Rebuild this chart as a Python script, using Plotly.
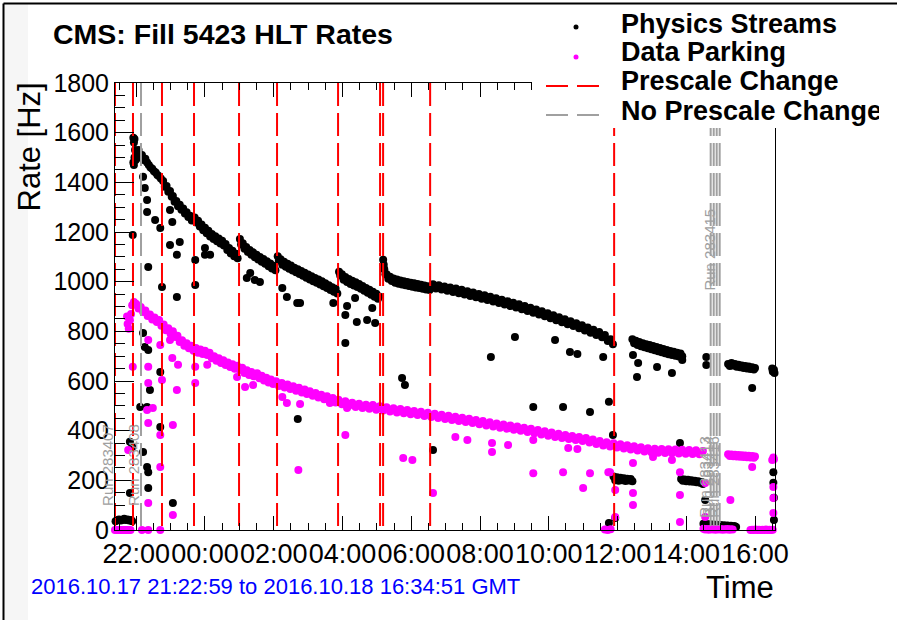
import pandas as pd
import plotly.graph_objects as go

# ---------------- data (minutes after fill start, rate in Hz) ----------------
fill_start = "2016-10-17 21:22:59"
fill_end = "2016-10-18 16:34:51"

physics_points = [
    (1,35),(4,40),(7,42),(10,38),(13,40),(16,45),(19,40),(22,42),(25,38),(28,40),(30,35),
    (26,355),(30,334),(26,149),(31,1188),
    (32,1480),(32,1580),(33,1560),(33,1470),(34,1575),(34,1500),(35,1530),(36,1490),(38,1510),
    (41,1530),(44,1500),(47,1510),(50,1490),(53,1495),(56,1480),(59,1470),(62,1460),(65,1455),
    (68,1445),(71,1440),(74,1430),(77,1425),(80,1415),
    (84,1405),(87,1382),(90,1385),(93,1362),(96,1365),(99,1342),(101,1345),(104,1322),(107,1325),
    (110,1304),(113,1310),(116,1290),(119,1295),(122,1275),(125,1280),(128,1260),(131,1265),
    (134,1246),(136,1250),
    (139,1258),(142,1238),(145,1245),(148,1222),(151,1230),(154,1207),(157,1217),(160,1195),
    (163,1205),(166,1182),(169,1192),(172,1172),(175,1183),(178,1163),(181,1174),(184,1154),
    (187,1165),(190,1146),(193,1152),(196,1128),(199,1136),(202,1114),(205,1124),(208,1102),
    (211,1112),(214,1094),
    (218,1172),(220,1150),(223,1155),(226,1133),(229,1140),(232,1119),(235,1128),(238,1108),
    (241,1118),(244,1098),(247,1108),(250,1089),(253,1099),(256,1080),(259,1091),(262,1072),
    (265,1082),(268,1062),(271,1073),(274,1053),(277,1064),(280,1046),
    (284,1102),(286,1085),(289,1090),(292,1068),(295,1080),(298,1060),(301,1072),(304,1052),
    (307,1065),(310,1045),(313,1056),(316,1038),(319,1050),(322,1031),(325,1043),(328,1024),
    (331,1036),(334,1016),(337,1029),(340,1009),(343,1022),(346,1002),(349,1015),(352,996),
    (355,1009),(358,989),(361,1002),(364,982),(367,994),(370,974),(373,986),(376,966),
    (379,978),(382,959),(385,971),(388,952),
    (391,1040),(393,1025),(396,1030),(399,1008),(402,1019),(405,999),(408,1011),(411,991),
    (414,1004),(417,985),(420,998),(423,979),(426,991),(429,971),(432,983),(435,963),
    (438,975),(441,955),(444,967),(447,947),(450,959),(453,939),(456,951),(459,931),(461,940),
    (468,1088),(469,1068),(470,1050),(472,1030),(474,1030),(477,1012),(480,1020),(483,1003),
    (486,1013),(489,996),(492,1009),(495,992),(498,1005),(501,989),(504,1002),(507,986),
    (510,999),(513,983),(516,996),(519,980),(522,994),(525,977),(528,991),(531,974),
    (534,988),(537,971),(540,985),(543,968),(546,982),(549,966),
    (555,990),(560,972),(565,986),(570,968),(575,981),(580,963),(585,977),(590,958),(595,972),
    (600,953),(605,967),(610,948),(615,961),(620,942),(625,956),(630,937),(635,950),(640,931),
    (645,945),(650,926),(655,939),(660,920),(665,933),(670,914),(675,927),(680,908),(685,921),
    (690,902),(695,915),(700,896),(705,909),(710,889),(715,902),(720,882),(725,895),(730,875),
    (735,888),(740,868),(745,881),(750,861),(755,873),(760,853),(765,865),(770,845),(775,857),
    (780,837),(785,849),(790,829),(795,841),(800,821),(805,833),(810,812),(815,824),(820,803),
    (825,815),(830,794),(835,806),(840,785),(845,797),(850,776),(855,785),(860,761),(865,768),
    (869,748),
    (903,768),(906,752),(909,762),(912,745),(915,757),(918,740),(921,752),(924,736),(927,748),
    (930,732),(933,745),(936,728),(939,741),(942,724),(945,737),(948,720),(951,733),(954,716),
    (957,729),(960,712),(963,725),(966,708),(969,721),(972,705),(975,718),(978,702),(981,714),
    (984,699),(987,711),(990,700),
    (1032,697),(1032,664),
    (1070,668),(1073,660),(1076,672),(1079,662),(1082,668),(1085,657),(1088,665),(1091,655),
    (1094,662),(1097,652),(1100,660),(1103,650),(1106,658),(1109,648),(1112,655),(1115,646),
    (1117,652),(1112,572),
    (1147,650),(1148,638),(1150,645),(1151,632),
    (870,215),(873,200),(876,212),(879,198),(882,210),(885,200),(888,208),(891,197),(894,206),
    (897,199),(900,205),(903,196),
    (988,205),(991,198),(994,203),(997,196),(1000,202),(1003,195),(1006,200),(1009,194),
    (1012,198),(1015,192),(1018,196),(1021,190),(1024,193),(1026,185),
    (1027,25),(1030,20),(1033,24),(1036,18),(1039,23),(1042,17),(1045,22),(1048,16),(1051,21),
    (1054,15),(1057,20),(1060,15),(1063,19),(1066,14),(1069,18),(1072,14),(1075,17),(1078,13),
    (1081,16),(1084,12),
    (1149,233),(1149,190),(1150,130),(1150,40),
    (862,28),(873,48),(869,383),(862,516),
    (44,495),(56,495),(49,314),(56,254),(58,233),(58,169),(79,415),(101,109),(319,447),(555,322),
    (49,1422),(52,1377),(56,1329),(56,1281),(58,1059),(70,1248),(79,1216),(82,979),(96,1289),
    (100,1240),(96,1148),(113,1160),(108,1108),(108,938),(140,1087),(140,987),(157,1136),
    (157,1108),(166,1108),(230,1015),(236,1035),(244,1007),(253,999),(292,975),(300,938),
    (318,914),(323,914),(381,914),(402,866),(405,902),(402,753),(419,934),(422,838),(440,846),
    (449,894),(454,834),(49,793),(52,737),(58,725),(79,636),(61,564),
    (501,612),(506,584),(656,697),(698,777),(768,765),(794,717),(807,709),(852,697),
    (730,495),(782,495),(829,475),(986,350),(904,705),(911,616),(913,672),(946,656),
    (972,632),(990,685),(1030,121),
]

parking_points = [
    (0,0),(3,0),(6,0),(9,0),(12,0),(15,0),(18,0),(21,0),(24,0),(27,0),(47,0),(58,0),(79,0),
    (21,860),(22,830),(24,810),(26,845),(28,870),(30,905),(33,918),(35,912),
    (37,910),(41,892),(45,898),(49,878),(53,884),(57,862),(61,868),(65,848),(69,856),(73,838),
    (77,846),(81,822),(85,828),(89,804),(93,812),(97,790),(101,800),(105,777),(109,782),
    (113,757),(117,764),(121,742),(125,752),(129,732),(133,742),(137,722),(141,733),(145,714),
    (149,727),(153,709),(157,722),(161,705),(165,714),(169,692),(173,700),(177,682),(181,692),
    (185,672),(189,684),(193,664),(197,675),(201,656),(205,667),(209,649),(213,661),(218,644),
    (222,653),(226,632),(230,643),(234,624),(238,636),(242,619),(248,631),(252,611),(256,621),
    (260,602),(264,613),(268,594),(272,606),(276,588),(281,599),(286,580),(291,592),(296,574),
    (301,586),(306,568),(311,579),(316,561),(321,573),(326,554),(331,566),(335,548),(340,559),
    (345,541),(350,552),(355,534),(360,545),(365,527),(370,539),(375,520),(380,532),(385,513),
    (390,525),(396,506),(402,518),(408,500),(414,512),(420,495),(426,508),(432,491),(438,504),
    (444,488),(450,501),(456,484),(462,498),(468,481),(474,494),(480,477),(486,490),(492,473),
    (498,487),(504,470),(510,483),(516,466),(522,479),(528,463),(534,476),(540,459),(546,472),
    (552,455),(558,468),(564,451),(570,464),(576,447),(582,460),(588,443),(594,456),(600,439),
    (606,452),(612,435),(618,448),(624,431),(630,443),(636,426),(642,439),(648,421),(654,434),
    (660,417),(666,429),(672,412),(678,425),(684,408),(690,421),(696,404),(702,417),(708,400),
    (714,412),(720,395),(726,408),(732,390),(738,403),(744,385),(750,398),(756,380),(762,393),
    (768,375),(774,388),(780,370),(786,383),(792,366),(798,379),(804,362),(810,375),(816,358),
    (822,370),(828,352),(834,364),(840,346),(846,358),(852,340),(858,353),(864,336),(870,349),
    (876,332),(882,345),(888,328),(894,341),(900,324),(906,337),(912,320),(918,333),(924,316),
    (930,329),(936,313),(942,327),(948,311),(954,326),(960,310),(966,325),(972,309),(978,324),
    (984,308),(990,323),(996,307),(1002,322),(1008,306),(1014,321),(1020,305),(1026,318),
    (1070,305),(1073,298),(1076,304),(1079,297),(1082,303),(1085,296),(1088,302),(1091,295),
    (1094,301),(1097,294),(1100,300),(1103,293),(1106,299),(1109,292),(1112,298),(1115,291),
    (1117,296),(1147,282),(1149,292),(1150,285),(1152,288),
    (1027,5),(1030,2),(1033,4),(1036,1),(1039,4),(1042,2),(1045,5),(1048,1),(1051,4),(1054,2),
    (1057,4),(1060,1),(1063,3),(1066,2),(1069,4),(1072,1),(1075,3),(1078,2),
    (1109,0),(1112,1),(1115,0),(1118,2),(1121,0),(1124,1),(1127,0),(1130,1),(1133,0),(1136,2),
    (1139,0),(1142,1),(1145,0),(1148,1),(855,2),(860,0),(865,3),
    (23,322),(56,483),(58,431),(58,109),(66,491),(79,383),(79,254),(101,423),(101,60),(320,242),
    (402,383),(503,290),(519,282),(555,149),(300,511),(323,507),(31,657),(58,657),(58,765),
    (58,592),(82,604),(79,745),(96,765),(100,693),(110,665),(108,564),(140,657),(140,592),
    (161,665),(213,616),(227,576),(241,584),(292,536),(375,511),(405,491),(450,503),
    (594,375),(615,362),(658,350),(658,314),(686,342),(730,362),(730,229),(782,233),(791,330),
    (807,326),(817,169),(829,229),(861,233),(864,233),(873,161),(873,52),(904,270),(904,149),
    (904,101),(939,294),(972,282),(986,233),(986,141),(986,32),(1030,189),(1030,52),(1074,121),
    (1112,254),(1149,173),(1149,129),(1149,68),
]

prescale_change_min = [0.0, 31.4, 82.0, 137.9, 216.5, 282.8, 389.3, 462.6, 467.9, 550.0, 871.1]
no_prescale_change_min = [45.4, 1039.6, 1044.9, 1050.1, 1055.3]

run_label_min = [0.0, 45.4, 1039.6, 1044.9, 1050.1, 1055.3]
run_label_text = ["Run 283407", "Run 283408", "Run 283413", "Run 283414", "Run 283415", "Run 283416"]

x_tick_start = "2016-10-17 22:00:00"
y_range = [0, 1800]

# ---------------- helpers ----------------
t0 = pd.Timestamp(fill_start)


def to_time(m):
    return t0 + pd.to_timedelta(m, unit="min")


def vlines(mins):
    xs, ys = [], []
    for m in mins:
        xs += [to_time(m), to_time(m), None]
        ys += [y_range[1], y_range[0], None]
    return xs, ys


FONT = "Liberation Sans, Arial, Helvetica, sans-serif"

fig = go.Figure()

fig.add_trace(go.Scatter(
    x=[to_time(m) for m, r in physics_points], y=[r for m, r in physics_points],
    mode="markers", marker=dict(color="black", size=8, line=dict(width=0)),
    cliponaxis=False, name="Physics Streams", showlegend=False))
fig.add_trace(go.Scatter(
    x=[to_time(m) for m, r in parking_points], y=[r for m, r in parking_points],
    mode="markers", marker=dict(color="#ff00ff", size=8, line=dict(width=0)),
    cliponaxis=False, name="Data Parking", showlegend=False))

vx, vy = vlines(prescale_change_min)
fig.add_trace(go.Scatter(x=vx, y=vy, mode="lines", name="Prescale Change", showlegend=False,
                         line=dict(color="#ff0000", width=2, dash="23px,7px"), hoverinfo="skip"))
gx, gy = vlines(no_prescale_change_min)
fig.add_trace(go.Scatter(x=gx, y=gy, mode="lines", name="No Prescale Change", showlegend=False,
                         line=dict(color="#a0a0a0", width=2, dash="23px,7px"), hoverinfo="skip"))

# ---------------- layout geometry ----------------
L, R, T, B = 115, 775, 83, 530
W, H = 897, 620


def px(xp):
    return (xp - L) / (R - L)


def py(yp):
    return (B - yp) / (B - T)


shapes = [
    # faint grey strip on the left of the canvas
    dict(type="rect", xref="paper", yref="paper", x0=px(4), x1=px(28), y0=py(H + 5), y1=py(4),
         fillcolor="#f6f6f6", line=dict(width=0), layer="below"),
    # white legend box covering frame corner
    dict(type="rect", xref="paper", yref="paper", x0=px(532), x1=px(W + 5), y0=py(128), y1=py(5),
         fillcolor="white", line=dict(width=0), layer="above"),
    # canvas border (top and left)
    dict(type="line", xref="paper", yref="paper", x0=px(3.5), x1=px(W + 5), y0=py(3.5), y1=py(3.5),
         line=dict(color="black", width=2), layer="above"),
    dict(type="line", xref="paper", yref="paper", x0=px(3.5), x1=px(3.5), y0=py(3.5), y1=py(H + 5),
         line=dict(color="black", width=2), layer="above"),
    # legend line samples
    dict(type="line", xref="paper", yref="paper", x0=px(546), x1=px(602), y0=py(86), y1=py(86),
         line=dict(color="#ff0000", width=2, dash="22px,9px"), layer="above"),
    dict(type="line", xref="paper", yref="paper", x0=px(546), x1=px(602), y0=py(115), y1=py(115),
         line=dict(color="#a0a0a0", width=2, dash="22px,9px"), layer="above"),
    # legend markers
    dict(type="circle", xref="paper", yref="paper", xsizemode="pixel", ysizemode="pixel",
         xanchor=px(576), yanchor=py(27), x0=-2.5, x1=2.5, y0=-2.5, y1=2.5,
         fillcolor="black", line=dict(width=0), layer="above"),
    dict(type="circle", xref="paper", yref="paper", xsizemode="pixel", ysizemode="pixel",
         xanchor=px(576), yanchor=py(57), x0=-2.5, x1=2.5, y0=-2.5, y1=2.5,
         fillcolor="#ff00ff", line=dict(width=0), layer="above"),
]

annotations = []
legend_items = [("Physics Streams", 24), ("Data Parking", 52), ("Prescale Change", 81),
                ("No Prescale Change", 111)]
for text, yc in legend_items:
    annotations.append(dict(text=f"<b>{text}</b>", xref="paper", yref="paper", x=px(619), y=py(yc),
                            xanchor="left", yanchor="middle", showarrow=False, align="left",
                            width=258, font=dict(family=FONT, size=27, color="black")))

annotations += [
    dict(text="<b>CMS: Fill 5423 HLT Rates</b>", xref="paper", yref="paper", x=px(51), y=py(34),
         xanchor="left", yanchor="middle", showarrow=False,
         font=dict(family=FONT, size=28.5, color="black")),
    dict(text="Rate [Hz]", xref="paper", yref="paper", x=px(29), y=py(81), textangle=-90,
         xanchor="center", yanchor="top", showarrow=False,
         font=dict(family=FONT, size=31, color="black")),
    dict(text="Time", xref="paper", yref="paper", x=px(776), y=py(587), xanchor="right",
         yanchor="middle", showarrow=False, font=dict(family=FONT, size=31, color="black")),
    dict(text=f"{fill_start.replace('-', '.')} to {fill_end.replace('-', '.')} GMT",
         xref="paper", yref="paper", x=px(29), y=py(586), xanchor="left", yanchor="middle",
         showarrow=False, font=dict(family=FONT, size=22, color="#0000ff")),
]

label_rate = [262, 262, 213, 213, 1128, 213]
for m, txt, r in zip(run_label_min, run_label_text, label_rate):
    annotations.append(dict(text=txt, x=to_time(m), y=r, xref="x", yref="y", xshift=-7,
                            textangle=-90, xanchor="center", yanchor="middle", showarrow=False,
                            font=dict(family=FONT, size=15, color="#a0a0a0")))

fig.update_layout(
    width=W, height=H,
    margin=dict(l=L, r=W - R, t=T, b=H - B, pad=0),
    paper_bgcolor="white", plot_bgcolor="white",
    showlegend=False,
    shapes=shapes, annotations=annotations,
    xaxis=dict(type="date", range=[fill_start, fill_end], tickformat="%H:%M",
               tick0=x_tick_start, dtick=7200000, ticks="inside", ticklen=14, tickwidth=1,
               tickangle=0,
               tickcolor="black", showline=True, linecolor="black", linewidth=1, mirror="ticks",
               showgrid=False, zeroline=False,
               tickfont=dict(family=FONT, size=27, color="black"),
               minor=dict(tick0=x_tick_start, dtick=1800000, ticks="inside", ticklen=7,
                          tickcolor="black", showgrid=False)),
    yaxis=dict(range=y_range, dtick=200, ticks="inside", ticklen=19, tickwidth=1,
               tickcolor="black", showline=True, linecolor="black", linewidth=1, mirror=True,
               showgrid=False, zeroline=False,
               tickfont=dict(family=FONT, size=25, color="black"),
               minor=dict(dtick=50, ticks="inside", ticklen=10, tickcolor="black",
                          showgrid=False)),
)

fig.write_html("out.html")
